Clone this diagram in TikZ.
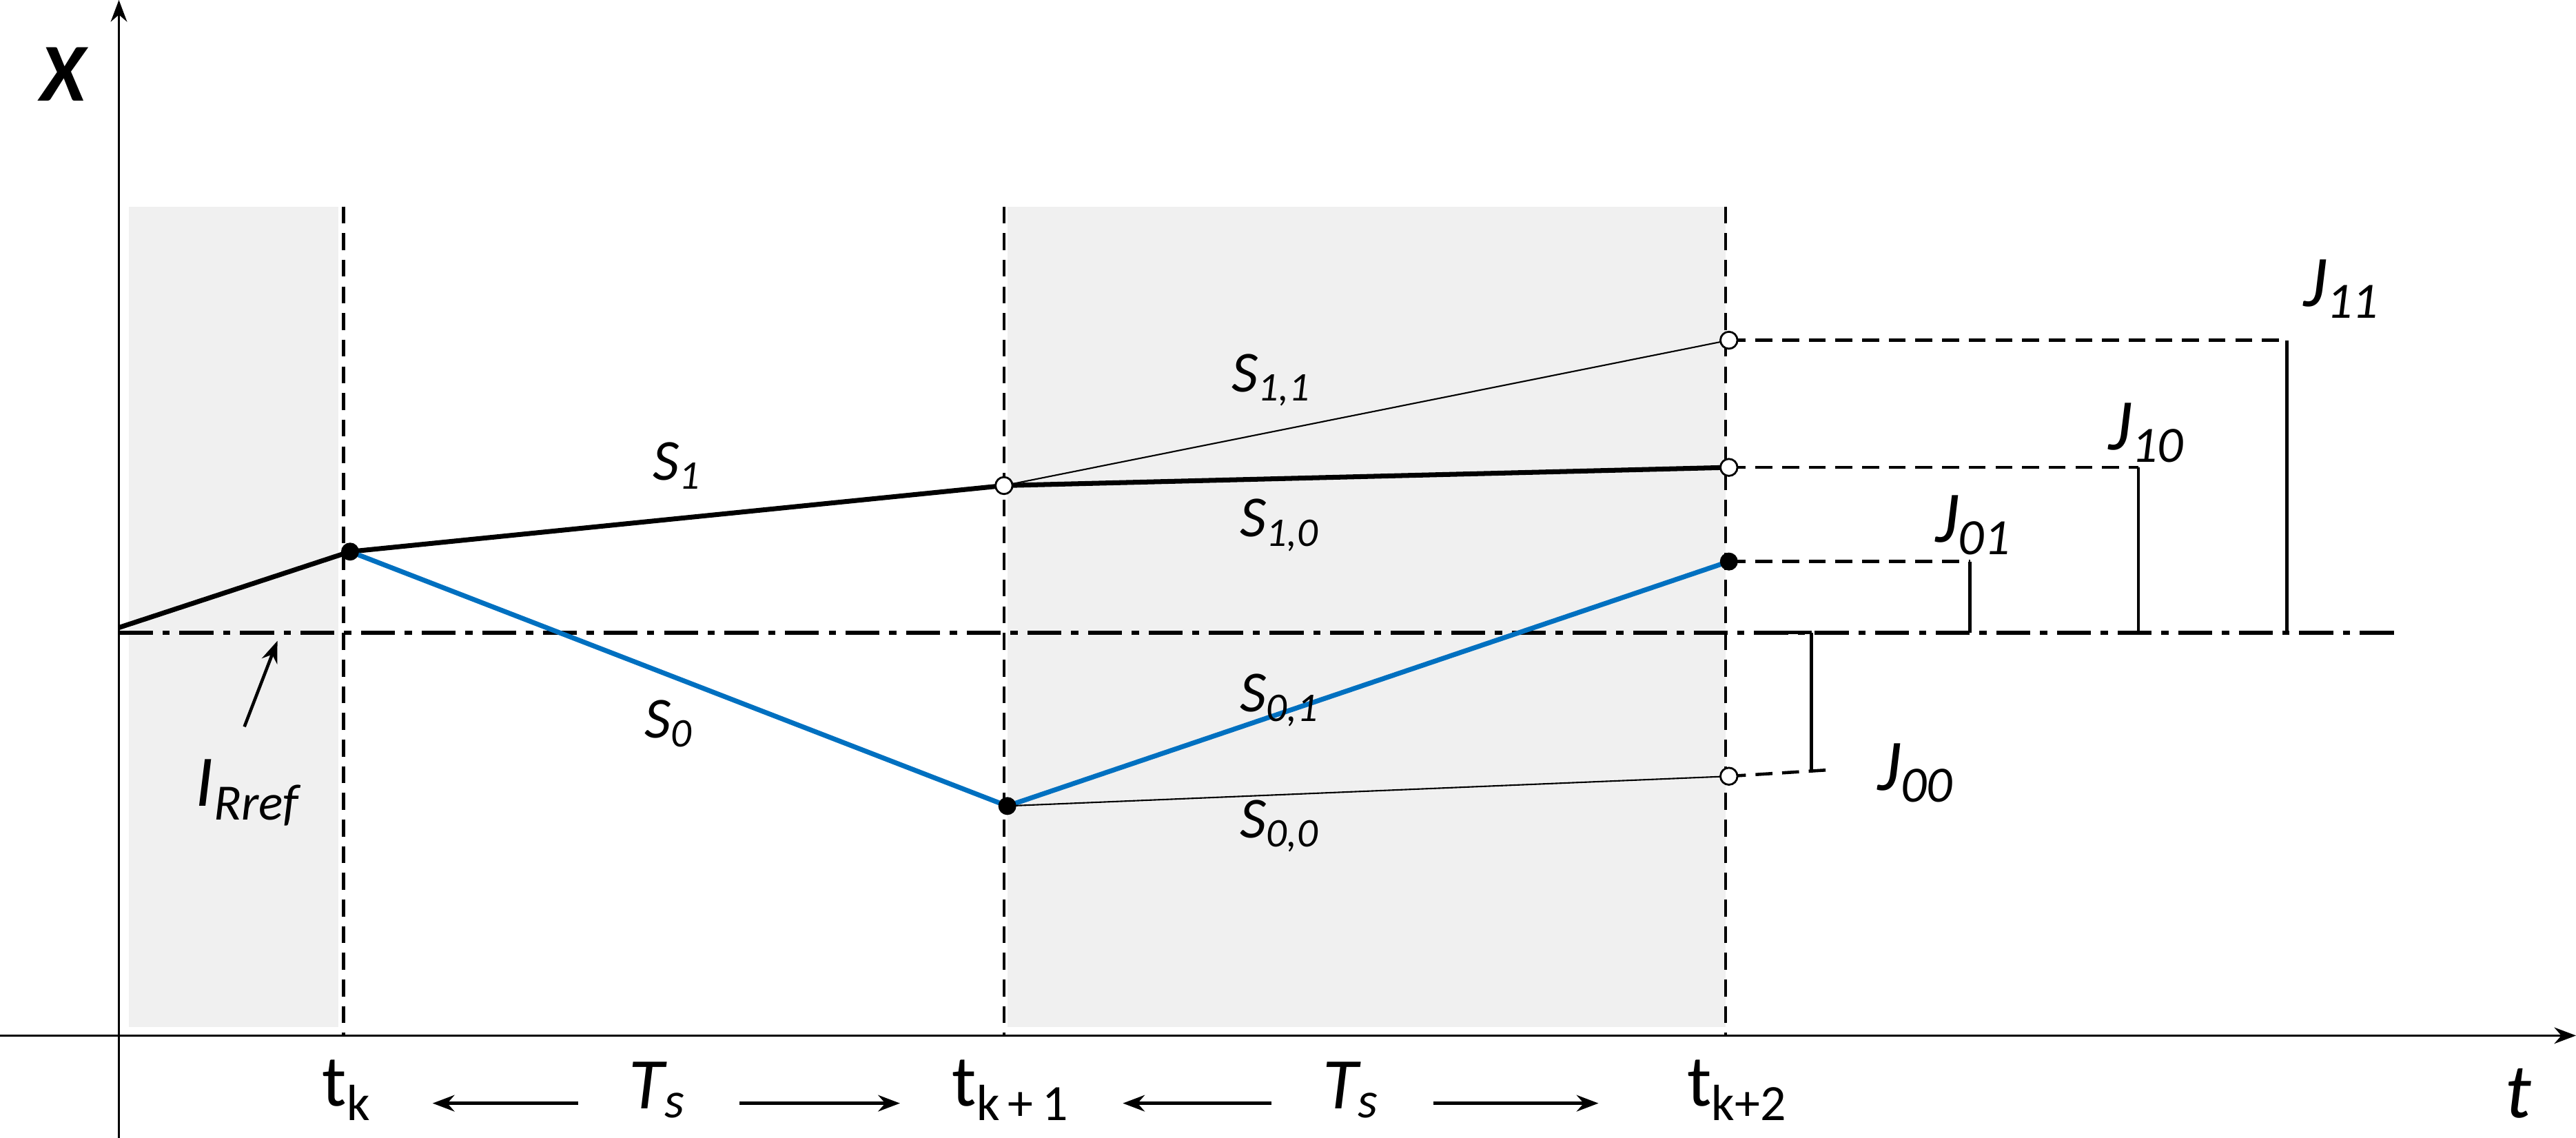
\documentclass[tikz,border=0pt]{standalone}
\usepackage{fontspec}
\setmainfont{Carlito}
\usetikzlibrary{arrows.meta}
\definecolor{greyfill}{RGB}{240,240,240}
\definecolor{bl}{RGB}{0,112,192}
\newcommand{\sbs}[1]{\textsubscript{#1}}
\begin{document}
\begin{tikzpicture}[x=0.023962cm,y=-0.023962cm,
  lbl/.style={font=\fontsize{24}{28}\selectfont\itshape},
  jl/.style={font=\fontsize{30}{34}\selectfont\itshape},
  big/.style={font=\fontsize{30}{34}\selectfont},
  dsh/.style={line width=1.3pt,dash pattern=on 7pt off 4pt},
  fdot/.style={circle,fill=black,draw=black,inner sep=0pt,minimum size=7pt},
  odot/.style={circle,fill=white,draw=black,line width=0.8pt,inner sep=0pt,minimum size=7pt},
  arr/.style={-{Stealth[length=9pt]},line width=1.3pt}]
\useasboundingbox (0,0) rectangle (1560,689);
\fill[greyfill] (78,125) rectangle (205,622);
\fill[greyfill] (610,125) rectangle (1045,622);
% axes
\coordinate (xo) at (0,627); \coordinate (xe) at (1560,627);
\coordinate (yo) at (72,689); \coordinate (ye) at (72,0);
\draw[arr,line width=0.8pt] (xo) -- (xe);
\draw[arr,line width=0.8pt] (yo) -- (ye);
\node[font=\fontsize{34}{38}\selectfont\bfseries\itshape] (X) at (38,45) {X};
\node[font=\fontsize{32}{36}\selectfont\itshape] (t) at (1525,662) {t};
% verticals
\foreach \n/\x in {a/208,b/608,c/1045}{
  \coordinate (\n1) at (\x,125); \coordinate (\n2) at (\x,627);
  \draw[dsh] (\n1) -- (\n2);}
% reference line
\coordinate (r0) at (72,383); \coordinate (r1) at (1450,383);
\draw[line width=1.6pt,dash pattern=on 14pt off 4pt on 3pt off 4pt] (r0) -- (r1);
% points
\coordinate (p0) at (72,380);
\coordinate (pk) at (212,334);
\coordinate (p1o) at (608,294);
\coordinate (p0c) at (610,488);
\coordinate (e11) at (1047,206);
\coordinate (e10) at (1047,283);
\coordinate (e01) at (1047,340);
\coordinate (e00) at (1047,470);
\draw[line width=2pt] (p0) -- (pk) -- (p1o) -- (e10);
\draw[line width=0.6pt] (p1o) -- (e11);
\draw[bl,line width=2pt] (pk) -- (p0c) -- (e01);
\draw[line width=0.6pt] (p0c) -- (e00);
% J brackets
\coordinate (h11) at (1385,206); \coordinate (v11) at (1385,383);
\coordinate (h10) at (1295,283); \coordinate (v10) at (1295,383);
\coordinate (h01) at (1193,340); \coordinate (v01) at (1193,383);
\coordinate (h00) at (1097,466); \coordinate (v00) at (1097,383);
\coordinate (h00b) at (1110,466);
\draw[dsh] (e11) -- (h11); \draw[line width=1.3pt] (h11) -- (v11);
\draw[dsh] (e10) -- (h10); \draw[line width=1.3pt] (h10) -- (v10);
\draw[dsh] (e01) -- (h01); \draw[line width=1.3pt] (h01) -- (v01);
\draw[dsh] (e00) -- (h00b); \draw[line width=1.3pt] (h00) -- (v00);
\coordinate (v00a) at (1070,383); \draw[line width=1.3pt] (v00a) -- (v00);
\node[fdot] (npk) at (pk) {}; \node[fdot] (np0c) at (p0c) {}; \node[fdot] (ne01) at (e01) {};
\node[odot] (np1o) at (p1o) {}; \node[odot] (ne11) at (e11) {};
\node[odot] (ne10) at (e10) {}; \node[odot] (ne00) at (e00) {};
\node[jl] (J11) at (1418,175) {J\sbs{11}};
\node[jl] (J10) at (1300,262) {J\sbs{10}};
\node[jl] (J01) at (1195,318) {J\sbs{01}};
\node[jl] (J00) at (1160,468) {J\sbs{00}};
% S labels
\node[lbl] (S1) at (410,282) {S\sbs{1}};
\node[lbl] (S11) at (770,230) {S\sbs{1,1}};
\node[lbl] (S10) at (775,318) {S\sbs{1,0}};
\node[lbl] (S0) at (405,438) {S\sbs{0}};
\node[lbl] (S01) at (775,424) {S\sbs{0,1}};
\node[lbl] (S00) at (775,500) {S\sbs{0,0}};
% I_Rref
\node[font=\fontsize{30}{34}\selectfont\itshape] (IR) at (150,480) {I\sbs{Rref}};
\coordinate (IRt) at (168,388);
\draw[arr] (148,440) -- (IRt);
% time labels
\node[big] (tk) at (210,660) {t\sbs{k}};
\node[big] (tk1) at (612,660) {t\sbs{k\,+\,1}};
\node[big] (tk2) at (1052,660) {t\sbs{k+2}};
\node[jl] (Ts1) at (398,660) {T\sbs{s}};
\node[jl] (Ts2) at (818,660) {T\sbs{s}};
\coordinate (a1) at (262,668); \coordinate (a2) at (545,668);
\coordinate (a3) at (680,668); \coordinate (a4) at (968,668);
\draw[arr] (350,668) -- (a1);
\draw[arr] (448,668) -- (a2);
\draw[arr] (770,668) -- (a3);
\draw[arr] (868,668) -- (a4);
\end{tikzpicture}
\end{document}
